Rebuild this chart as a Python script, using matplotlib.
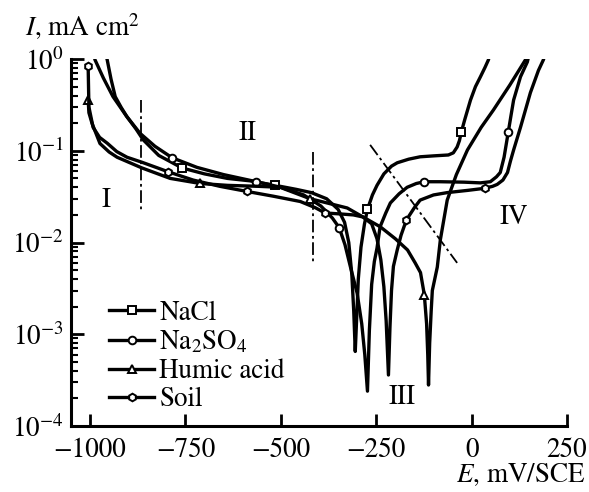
import matplotlib.pyplot as plt
from matplotlib.ticker import LogLocator, NullFormatter

# polarization curves: potential E (mV/SCE) and current density I (mA cm^2)
nacl_E = [-958, -955, -945, -934, -918, -903, -880, -861, -820, -759, -700, -640, -580, -515, -460, -420,
          -380, -350, -333, -322, -314, -309, -305, -301, -297, -290, -281, -273, -260, -248, -230, -210,
          -195, -165, -135, -100, -61, -48, -38, -32, -27, -18, -3, 10, 23, 35, 44, 47]
nacl_I = [1.1, 0.977, 0.603, 0.389, 0.295, 0.234, 0.174, 0.132, 0.089, 0.065, 0.056, 0.050, 0.047, 0.042,
          0.038, 0.035, 0.030, 0.023, 0.0166, 0.010, 0.0045, 0.0018, 0.00065, 0.0016, 0.004, 0.0089, 0.0158,
          0.023, 0.033, 0.042, 0.056, 0.068, 0.074, 0.081, 0.086, 0.088, 0.090, 0.095, 0.110, 0.129, 0.160,
          0.219, 0.357, 0.50, 0.64, 0.81, 0.98, 1.1]
nacl_marks = [-759, -515, -273, -27]

na2so4_E = [-990, -987, -965, -940, -905, -869, -830, -785, -720, -650, -564, -500, -440, -395, -365, -347,
            -332, -318, -300, -288, -280, -273, -268, -262, -255, -248, -240, -225, -213, -190, -169, -145,
            -124, -82, -20, 23, 49, 65, 75, 85, 96, 103, 110, 128, 146, 150]
na2so4_I = [1.1, 0.98, 0.62, 0.39, 0.24, 0.155, 0.112, 0.084, 0.066, 0.055, 0.046, 0.040, 0.033, 0.025,
            0.0185, 0.0145, 0.0095, 0.0055, 0.0028, 0.0013, 0.0006, 0.00024, 0.0011, 0.0035, 0.0062, 0.0087,
            0.0148, 0.021, 0.027, 0.034, 0.040, 0.044, 0.046, 0.046, 0.0455, 0.0447, 0.046, 0.052, 0.058,
            0.085, 0.16, 0.24, 0.357, 0.64, 0.93, 1.1]
na2so4_marks = [-785, -564, -347, -124, 96]

humic_E = [-1005, -1003, -995, -974, -950, -929, -864, -790, -711, -640, -560, -502, -423, -326, -239, -200,
           -168, -148, -134, -124, -118, -115, -113, -110, -106, -103, -90, -82, -64, -40, -11, 25, 57, 100,
           141, 145]
humic_I = [0.36, 0.26, 0.20, 0.12, 0.097, 0.085, 0.065, 0.050, 0.044, 0.042, 0.041, 0.040, 0.030, 0.0238,
           0.0148, 0.0110, 0.0083, 0.0060, 0.0047, 0.0027, 0.0013, 0.0006, 0.00028, 0.0008, 0.0018, 0.003,
           0.0054, 0.0107, 0.029, 0.055, 0.102, 0.18, 0.278, 0.52, 0.98, 1.1]
humic_marks = [-1005, -711, -423, -124]

soil_E = [-1005, -1004, -1003, -992, -975, -955, -930, -903, -864, -795, -730, -660, -588, -520, -449, -410,
          -384, -345, -310, -285, -262, -248, -238, -230, -224, -218, -214, -210, -205, -195, -185, -171,
          -150, -135, -100, -64, -11, 34, 55, 67, 82, 94, 102, 110, 128, 154, 175, 188, 192]
soil_I = [0.84, 0.5, 0.30, 0.18, 0.14, 0.121, 0.098, 0.085, 0.075, 0.059, 0.048, 0.041, 0.036, 0.032, 0.028,
          0.024, 0.021, 0.0205, 0.020, 0.019, 0.016, 0.011, 0.0065, 0.0033, 0.0014, 0.00036, 0.0012, 0.003,
          0.0055, 0.0083, 0.012, 0.0176, 0.024, 0.029, 0.033, 0.035, 0.037, 0.039, 0.041, 0.043, 0.048,
          0.058, 0.078, 0.102, 0.18, 0.43, 0.75, 0.98, 1.1]
soil_marks = [-1005, -795, -588, -384, -171, 34]

plt.rcParams['font.family'] = 'STIXGeneral'
plt.rcParams['mathtext.fontset'] = 'stix'
fs = 19.5

fig = plt.figure(figsize=(5.89, 4.92), dpi=100)
ax = fig.add_axes([0.1205, 0.1341, 0.8422, 0.7459])

curves = [
    (nacl_E, nacl_I, nacl_marks, 's', 'NaCl'),
    (na2so4_E, na2so4_I, na2so4_marks, 'o', 'Na$_2$SO$_4$'),
    (humic_E, humic_I, humic_marks, '^', 'Humic acid'),
    (soil_E, soil_I, soil_marks, 'h', 'Soil'),
]
for E, I, marks, m, lab in curves:
    idx = [E.index(v) for v in marks]
    ax.plot(E, I, color='k', lw=2.4, marker=m, ms=5.5, mfc='white', mec='k', mew=1.4,
            markevery=idx, label=lab)

# region boundaries
dd = (0, (7, 2, 1.5, 2))
ax.plot([-866, -866], [0.357, 0.0215], color='k', lw=1.3, ls=dd)
ax.plot([-415, -415], [0.098, 0.0062], color='k', lw=1.3, ls=dd)
ax.plot([-266, -38], [0.116, 0.0060], color='k', lw=1.3, ls=dd)

for txt, x, y in [('I', -958, 0.029), ('II', -588, 0.155), ('III', -182, 0.000204), ('IV', 110, 0.0186)]:
    ax.text(x, y, txt, fontsize=fs, ha='center', va='center')

ax.set_yscale('log')
ax.set_ylim(1e-4, 1)
ax.set_xlim(-1050, 250)
ax.set_xticks([-1000, -750, -500, -250, 0, 250])
ax.yaxis.set_minor_locator(LogLocator(base=10, subs=range(2, 10), numticks=20))
ax.yaxis.set_minor_formatter(NullFormatter())

for s in ['top', 'right']:
    ax.spines[s].set_visible(False)
for s in ['left', 'bottom']:
    ax.spines[s].set_linewidth(2.2)
ax.tick_params(which='major', direction='in', length=9, width=2, labelsize=fs)
ax.tick_params(axis='x', which='major', pad=8.5)
ax.tick_params(axis='y', which='major', pad=5)
ax.tick_params(which='minor', direction='in', length=5, width=1.5)
ax.tick_params(axis='x', which='minor', bottom=False)

fig.text(25 / 589, 1 - 27 / 492, '$I$, mA cm$^2$', fontsize=fs, ha='left', va='center')
fig.text(586 / 589, 1 - 482 / 492, '$E$, mV/SCE', fontsize=fs, ha='right', va='baseline')

ax.legend(loc='lower left', bbox_to_anchor=(0.05, 0.0), frameon=False, fontsize=fs,
          handlelength=1.65, handletextpad=0.2, labelspacing=0.12, borderpad=0, numpoints=1)

fig.savefig('out.png', dpi=100)
